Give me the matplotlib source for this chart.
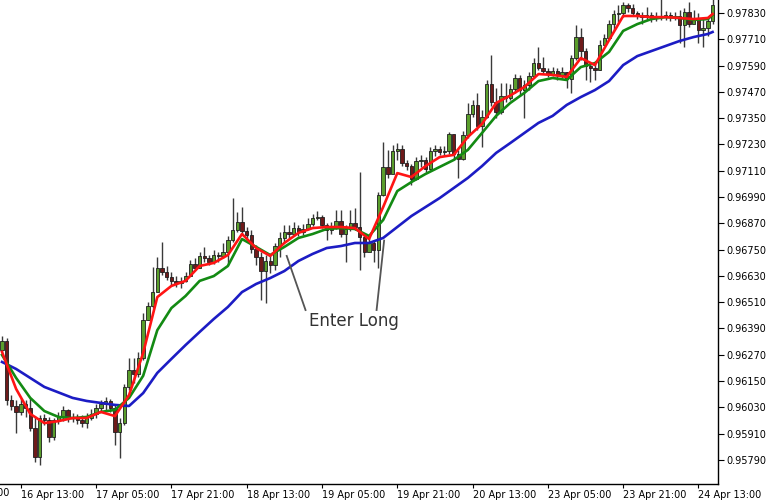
import numpy as np
import matplotlib
matplotlib.use("Agg")
import matplotlib.pyplot as plt

# hourly candles, 16 Apr 09:00 onwards (bar index on x)
first_open = 0.96292
closes = [0.96333, 0.96063, 0.96036, 0.96009, 0.96045, 0.96027, 0.95935, 0.95803, 0.95981, 0.95972,
          0.95894, 0.95972, 0.95986, 0.96018, 0.95981, 0.95986, 0.95972, 0.95958, 0.95981, 0.96000,
          0.96027, 0.96045, 0.96059, 0.96027, 0.95917, 0.95958, 0.96123, 0.96200, 0.96182, 0.96255,
          0.96428, 0.96493, 0.96556, 0.96666, 0.96648, 0.96625, 0.96607, 0.96597, 0.96607, 0.96629,
          0.96684, 0.96666, 0.96721, 0.96711, 0.96693, 0.96725, 0.96721, 0.96739, 0.96794, 0.96839,
          0.96876, 0.96835, 0.96816, 0.96753, 0.96716, 0.96652, 0.96698, 0.96680, 0.96766, 0.96803,
          0.96830, 0.96821, 0.96848, 0.96830, 0.96844, 0.96867, 0.96894, 0.96899, 0.96862, 0.96839,
          0.96848, 0.96880, 0.96821, 0.96844, 0.96871, 0.96853, 0.96807, 0.96739, 0.96780, 0.96748,
          0.96999, 0.97127, 0.97095, 0.97200, 0.97209, 0.97145, 0.97131, 0.97072, 0.97154, 0.97159,
          0.97118, 0.97200, 0.97209, 0.97195, 0.97200, 0.97277, 0.97186, 0.97163, 0.97273, 0.97369,
          0.97410, 0.97314, 0.97355, 0.97506, 0.97423, 0.97378, 0.97451, 0.97442, 0.97483, 0.97533,
          0.97478, 0.97501, 0.97542, 0.97601, 0.97579, 0.97565, 0.97551, 0.97565, 0.97547, 0.97560,
          0.97528, 0.97624, 0.97720, 0.97656, 0.97588, 0.97579, 0.97570, 0.97684, 0.97716, 0.97779,
          0.97825, 0.97830, 0.97866, 0.97852, 0.97830, 0.97821, 0.97811, 0.97821, 0.97811, 0.97816,
          0.97811, 0.97821, 0.97811, 0.97816, 0.97775, 0.97834, 0.97779, 0.97807, 0.97752, 0.97761,
          0.97793, 0.97866]
highs = [0.96355, 0.96346, 0.96086, 0.96063, 0.96073, 0.96063, 0.96073, 0.95990, 0.95995, 0.96000,
         0.95986, 0.95981, 0.96009, 0.96036, 0.96022, 0.96004, 0.96000, 0.95995, 0.96004, 0.96022,
         0.96045, 0.96063, 0.96077, 0.96068, 0.96045, 0.95981, 0.96136, 0.96255, 0.96255, 0.96283,
         0.96460, 0.96511, 0.96670, 0.96716, 0.96784, 0.96675, 0.96648, 0.96629, 0.96625, 0.96648,
         0.96702, 0.96711, 0.96739, 0.96762, 0.96725, 0.96748, 0.96739, 0.96780, 0.96812, 0.96985,
         0.96921, 0.96944, 0.96853, 0.96839, 0.96771, 0.96739, 0.96725, 0.96725, 0.96780, 0.96830,
         0.96862, 0.96862, 0.96876, 0.96862, 0.96867, 0.96894, 0.96912, 0.96926, 0.96908, 0.96871,
         0.96876, 0.96931, 0.96931, 0.96862, 0.96931, 0.96940, 0.97104, 0.96816, 0.96803, 0.96794,
         0.97013, 0.97241, 0.97205, 0.97227, 0.97236, 0.97227, 0.97159, 0.97141, 0.97172, 0.97182,
         0.97172, 0.97218, 0.97227, 0.97223, 0.97223, 0.97287, 0.97250, 0.97205, 0.97291, 0.97419,
         0.97433, 0.97465, 0.97387, 0.97524, 0.97638, 0.97487, 0.97510, 0.97510, 0.97506, 0.97551,
         0.97547, 0.97524, 0.97560, 0.97624, 0.97674, 0.97629, 0.97579, 0.97583, 0.97579, 0.97583,
         0.97560, 0.97638, 0.97775, 0.97761, 0.97670, 0.97606, 0.97597, 0.97706, 0.97734, 0.97798,
         0.97843, 0.97866, 0.97880, 0.97875, 0.97871, 0.97839, 0.97834, 0.97857, 0.97834, 0.97834,
         0.97895, 0.97839, 0.97834, 0.97834, 0.97843, 0.97852, 0.97880, 0.97843, 0.97830, 0.97811,
         0.97811, 0.97895]
lows = [0.96283, 0.96041, 0.96018, 0.95913, 0.95995, 0.95986, 0.95922, 0.95780, 0.95767, 0.95949,
        0.95872, 0.95881, 0.95954, 0.95967, 0.95963, 0.95963, 0.95954, 0.95940, 0.95935, 0.95972,
        0.95981, 0.96013, 0.96018, 0.96009, 0.95858, 0.95799, 0.95949, 0.96109, 0.96141, 0.96168,
        0.96246, 0.96428, 0.96483, 0.96565, 0.96634, 0.96611, 0.96588, 0.96579, 0.96575, 0.96602,
        0.96629, 0.96657, 0.96670, 0.96693, 0.96680, 0.96684, 0.96693, 0.96711, 0.96680, 0.96784,
        0.96830, 0.96821, 0.96803, 0.96734, 0.96680, 0.96520, 0.96506, 0.96643, 0.96657, 0.96716,
        0.96784, 0.96803, 0.96812, 0.96812, 0.96816, 0.96839, 0.96858, 0.96885, 0.96848, 0.96794,
        0.96821, 0.96844, 0.96807, 0.96693, 0.96835, 0.96839, 0.96657, 0.96716, 0.96757, 0.96693,
        0.96666, 0.96994, 0.97077, 0.97113, 0.97159, 0.97131, 0.97113, 0.97045, 0.97068, 0.97127,
        0.97104, 0.97113, 0.97177, 0.97182, 0.97177, 0.97186, 0.97159, 0.97077, 0.97159, 0.97259,
        0.97355, 0.97296, 0.97218, 0.97350, 0.97405, 0.97350, 0.97369, 0.97423, 0.97433, 0.97465,
        0.97453, 0.97350, 0.97478, 0.97533, 0.97570, 0.97551, 0.97538, 0.97542, 0.97524, 0.97533,
        0.97487, 0.97465, 0.97615, 0.97615, 0.97524, 0.97515, 0.97524, 0.97570, 0.97684, 0.97706,
        0.97752, 0.97789, 0.97811, 0.97834, 0.97816, 0.97802, 0.97779, 0.97798, 0.97789, 0.97793,
        0.97798, 0.97798, 0.97793, 0.97798, 0.97693, 0.97674, 0.97766, 0.97789, 0.97693, 0.97674,
        0.97725, 0.97779]

# moving averages read every 3 bars
ma_bars = list(range(0, 151, 3)) + [151]
red_ma = [0.96283, 0.96114, 0.96000, 0.95958, 0.95967, 0.95981, 0.95981, 0.96009, 0.95990,
          0.96086, 0.96278, 0.96533, 0.96584, 0.96607, 0.96675, 0.96689, 0.96725,
          0.96821, 0.96757, 0.96721, 0.96780, 0.96826, 0.96848, 0.96853, 0.96853, 0.96848,
          0.96798, 0.96944, 0.97099, 0.97081, 0.97131, 0.97172, 0.97182, 0.97264, 0.97323,
          0.97419, 0.97453, 0.97492, 0.97551, 0.97547, 0.97538, 0.97624, 0.97592, 0.97706,
          0.97816, 0.97816, 0.97811, 0.97811, 0.97807, 0.97802, 0.97807, 0.97825]
green_ma = [0.96269, 0.96164, 0.96073, 0.96013, 0.95986, 0.95981, 0.95986, 0.96009, 0.96018,
            0.96073, 0.96174, 0.96382, 0.96483, 0.96538, 0.96607, 0.96629, 0.96675,
            0.96798, 0.96762, 0.96725, 0.96762, 0.96803, 0.96821, 0.96844, 0.96848, 0.96844,
            0.96812, 0.96885, 0.97017, 0.97058, 0.97095, 0.97127, 0.97159, 0.97205, 0.97282,
            0.97360, 0.97419, 0.97465, 0.97519, 0.97533, 0.97524, 0.97583, 0.97601, 0.97652,
            0.97748, 0.97779, 0.97802, 0.97811, 0.97807, 0.97798, 0.97802, 0.97821]
blue_ma = [0.96237, 0.96205, 0.96164, 0.96123, 0.96098, 0.96073, 0.96059, 0.96050, 0.96041,
           0.96036, 0.96095, 0.96187, 0.96251, 0.96314, 0.96374, 0.96433, 0.96488,
           0.96556, 0.96593, 0.96620, 0.96652, 0.96698, 0.96730, 0.96757, 0.96766, 0.96780,
           0.96780, 0.96803, 0.96853, 0.96903, 0.96944, 0.96985, 0.97031, 0.97077, 0.97131,
           0.97191, 0.97236, 0.97282, 0.97328, 0.97360, 0.97410, 0.97446, 0.97478, 0.97519,
           0.97592, 0.97633, 0.97656, 0.97679, 0.97702, 0.97720, 0.97734, 0.97743]

time_labels = ["15 Apr 21:00", "16 Apr 13:00", "17 Apr 05:00", "17 Apr 21:00", "18 Apr 13:00",
               "19 Apr 05:00", "19 Apr 21:00", "20 Apr 13:00", "23 Apr 05:00", "23 Apr 21:00",
               "24 Apr 13:00"]
price_ticks = [0.95790, 0.95910, 0.96030, 0.96150, 0.96270, 0.96390, 0.96510, 0.96630, 0.96750,
               0.96870, 0.96990, 0.97110, 0.97230, 0.97350, 0.97470, 0.97590, 0.97710, 0.97830]

opens = [first_open] + closes[:-1]
n = len(closes)
x = np.arange(n)
o = np.array(opens)
c = np.array(closes)
up = c >= o

fig = plt.figure(figsize=(7.8, 5.0), dpi=100)
ax = fig.add_axes([0.0, 0.032, 0.9205, 0.968])

# wicks
ax.vlines(x, lows, highs, color="#3a3a3a", lw=1.0, zorder=2)
# bodies
body_h = np.maximum(np.abs(c - o), 0.00003)
body_b = np.minimum(c, o)
ax.bar(x[up], body_h[up], bottom=body_b[up], width=0.72, color="#5a9e2c",
       edgecolor="#1e1e1e", linewidth=0.6, zorder=3)
ax.bar(x[~up], body_h[~up], bottom=body_b[~up], width=0.72, color="#6e1a1a",
       edgecolor="#1e1e1e", linewidth=0.6, zorder=3)

ax.plot(ma_bars, blue_ma, color="#1c1cc4", lw=1.9, zorder=4, solid_joinstyle="round")
ax.plot(ma_bars, green_ma, color="#138a13", lw=1.9, zorder=5, solid_joinstyle="round")
ax.plot(ma_bars, red_ma, color="#ff1414", lw=1.9, zorder=6, solid_joinstyle="round")

# annotation
ax.plot([64.5, 60.5], [0.96474, 0.96721], color="#555555", lw=1.3, zorder=7)
ax.plot([79.6, 81.2], [0.96474, 0.96791], color="#555555", lw=1.3, zorder=7)
ax.text(74.8, 0.96424, "Enter Long", ha="center", va="center", fontsize=12,
        color="#333333", zorder=8)

ax.set_xlim(-0.425, 152.15)
ax.set_ylim(0.95680, 0.97889)

tick_bars = [-12 + 16 * k for k in range(len(time_labels))]
ax.set_xticks(tick_bars[1:])
ax.set_xticklabels(time_labels[1:], ha="left", fontsize=7)
ax.text(tick_bars[0], -0.008, time_labels[0], transform=ax.get_xaxis_transform(),
        ha="left", va="top", fontsize=7, clip_on=False)
ax.tick_params(axis="x", direction="out", length=3, pad=1, width=0.8)

ax.yaxis.tick_right()
ax.set_yticks(price_ticks)
ax.set_yticklabels(["%.5f" % p for p in price_ticks], fontsize=7)
ax.tick_params(axis="y", direction="out", length=4, pad=2, width=0.8)

ax.spines["top"].set_visible(False)
ax.spines["left"].set_visible(False)
ax.spines["right"].set_linewidth(1.0)
ax.spines["bottom"].set_linewidth(1.0)

fig.savefig("out.png", dpi=100)
